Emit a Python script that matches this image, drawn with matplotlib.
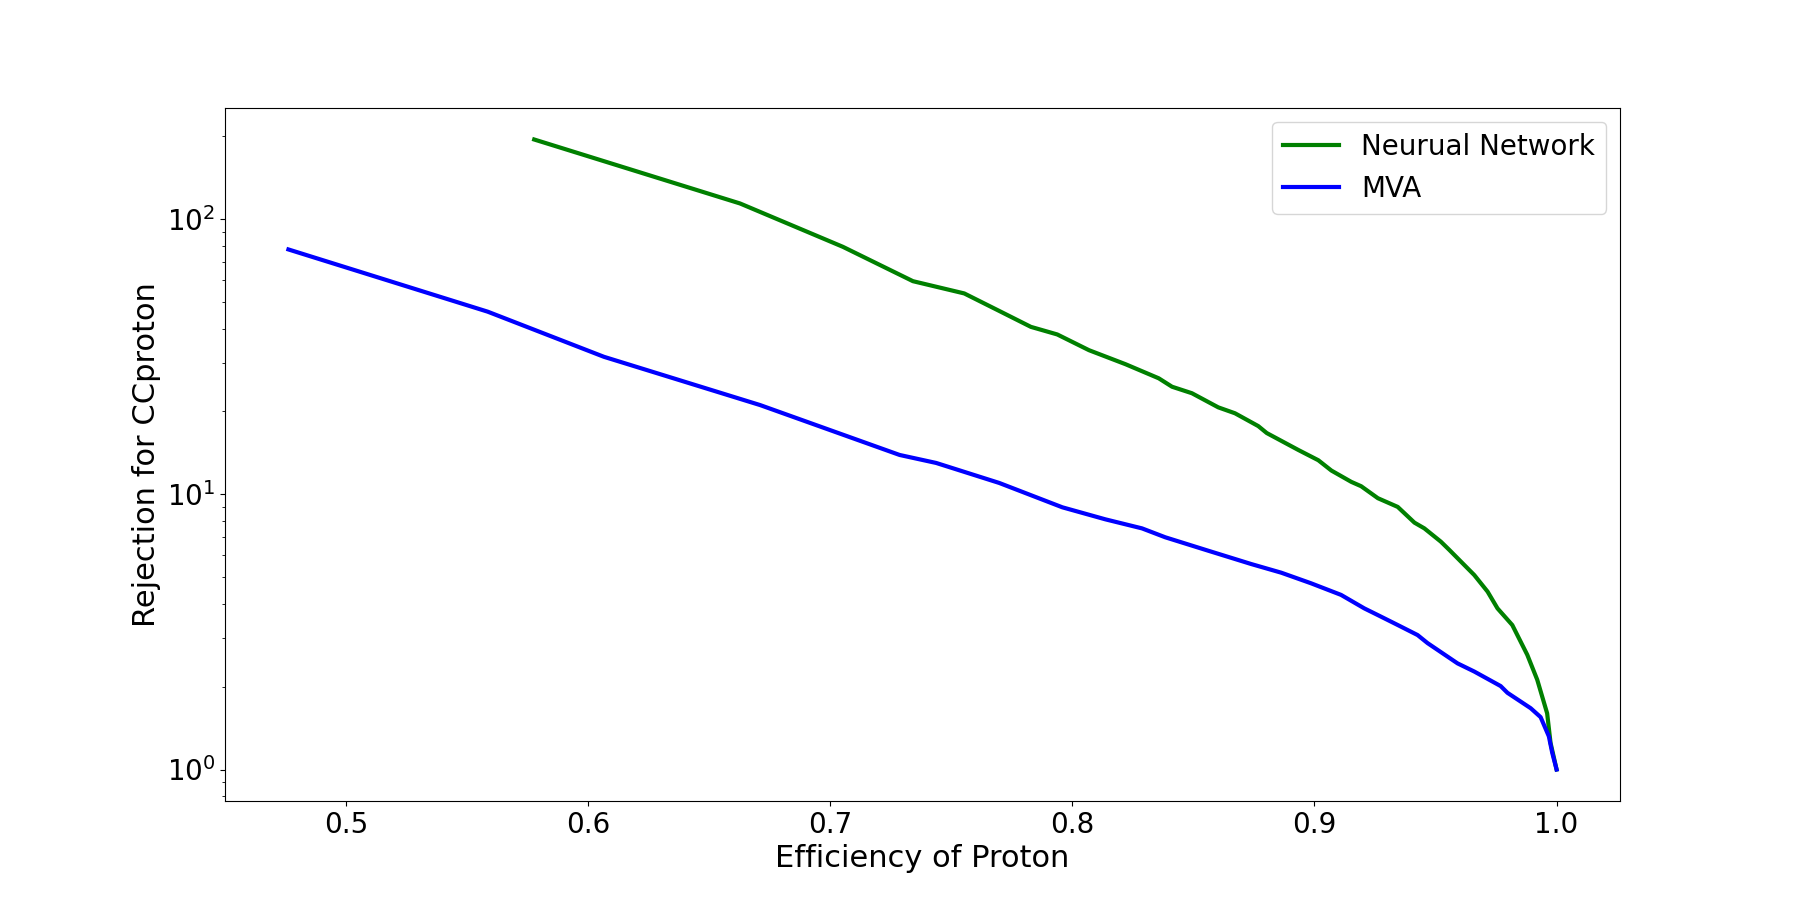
import numpy as np
import matplotlib
matplotlib.use('Agg')
import matplotlib.pyplot as plt

# efficiency vs rejection
nn_eff = [0.5778, 0.6628, 0.7053, 0.7342, 0.7554, 0.7698, 0.7829, 0.7938,
          0.8069, 0.8220, 0.8357, 0.8412, 0.8494, 0.8603, 0.8672, 0.8768,
          0.8803, 0.8933, 0.9016, 0.9070, 0.9152, 0.9193, 0.9262, 0.9344,
          0.9413, 0.9454, 0.9522, 0.9557, 0.9660, 0.9715, 0.9756, 0.9817,
          0.9879, 0.9920, 0.9961, 0.9975, 1.0]
nn_rej = [194.7, 114.0, 79.3, 59.5, 53.7, 46.4, 40.6, 38.1,
          33.4, 29.7, 26.4, 24.6, 23.3, 20.7, 19.7, 17.7,
          16.7, 14.5, 13.3, 12.2, 11.1, 10.7, 9.68, 9.0,
          7.89, 7.52, 6.73, 6.28, 5.09, 4.43, 3.85, 3.35,
          2.61, 2.12, 1.60, 1.25, 1.0]

mva_eff = [0.4763, 0.5586, 0.6066, 0.6711, 0.7287, 0.7438, 0.7698, 0.7959,
           0.8137, 0.8288, 0.8384, 0.8561, 0.8739, 0.8863, 0.8986, 0.9110,
           0.9206, 0.9262, 0.9344, 0.9426, 0.9467, 0.9591, 0.9660, 0.9769,
           0.9797, 0.9893, 0.9934, 0.9968, 0.9982, 1.0]
mva_rej = [77.6, 46.1, 31.6, 21.1, 13.9, 13.0, 11.0, 8.97,
           8.11, 7.52, 6.98, 6.24, 5.58, 5.19, 4.75, 4.31,
           3.85, 3.64, 3.35, 3.08, 2.88, 2.43, 2.27, 2.01,
           1.90, 1.67, 1.55, 1.32, 1.15, 1.0]

fig, ax = plt.subplots(figsize=(18, 9), dpi=100)

ax.plot(nn_eff, nn_rej, color='green', linewidth=3, label='Neurual Network')
ax.plot(mva_eff, mva_rej, color='blue', linewidth=3, label='MVA')
ax.set_yscale('log')

ax.set_xlabel('Efficiency of Proton', fontsize=22)
ax.set_ylabel('Rejection for CCproton', fontsize=22)
ax.tick_params(axis='both', which='major', labelsize=20)
ax.legend(fontsize=20)

plt.savefig('out.png')
